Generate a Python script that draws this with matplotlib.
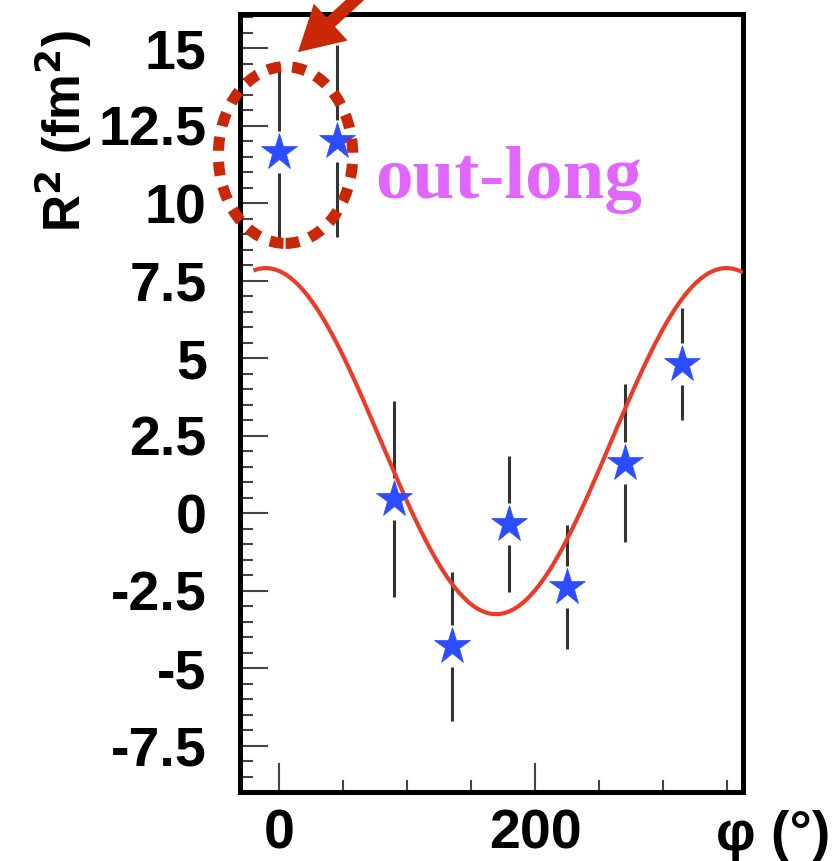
import numpy as np
import matplotlib
matplotlib.use("Agg")
import matplotlib.pyplot as plt
from matplotlib.patches import Ellipse
from matplotlib.ticker import MultipleLocator, FixedLocator

# ---- data ----
phi = [0, 45, 90, 135, 180, 225, 270, 315]
r2 = [11.65, 12.0, 0.45, -4.3, -0.35, -2.4, 1.6, 4.8]
r2_err = [2.85, 3.1, 3.15, 2.4, 2.2, 2.0, 2.55, 1.8]

# fit: a + b*cos(phi) + c*sin(phi)
fit_params = [2.32, 5.49, -1.01]
fit_range = [-20, 362.5]

ytick_vals = [-7.5, -5, -2.5, 0, 2.5, 5, 7.5, 10, 12.5, 15]
ytick_labels = ["-7.5", "-5", "-2.5", "0", "2.5", "5", "7.5", "10", "12.5", "15"]
xtick_vals = [0, 200]
xtick_labels = ["0", "200"]

panel_label = "out-long"
ylabel = r"R$^\mathbf{2}$ (fm$^\mathbf{2}$)"
xlabel = "φ (°)"

# ---- figure ----
W, H = 834, 861
fig = plt.figure(figsize=(W / 100, H / 100), dpi=100)
ax = fig.add_axes([240 / W, 1 - 792 / H, (743 - 240) / W, (792 - 14) / H])
xlim = (-30.5, 362.5)
ylim = (-9.0, 16.1)
ax.set_xlim(*xlim)
ax.set_ylim(*ylim)

for s in ax.spines.values():
    s.set_linewidth(3.6)
    s.set_color("black")

sans = "Liberation Sans"
ax.yaxis.set_major_locator(FixedLocator(ytick_vals))
ax.set_yticklabels(ytick_labels, fontfamily=sans, fontweight="bold", fontsize=40)
ax.yaxis.set_minor_locator(MultipleLocator(0.5))
ax.xaxis.set_major_locator(FixedLocator(xtick_vals))
ax.set_xticklabels(xtick_labels, fontfamily=sans, fontweight="bold", fontsize=40)
ax.xaxis.set_minor_locator(MultipleLocator(50))

ax.tick_params(axis="both", which="both", direction="in", color="#444444", width=1.5)
ax.tick_params(axis="y", which="major", length=20, pad=24)
ax.tick_params(axis="y", which="minor", length=9)
ax.tick_params(axis="x", which="major", length=21, pad=12)
ax.tick_params(axis="x", which="minor", length=9)

# fit curve
xf = np.linspace(fit_range[0], fit_range[1], 400)
rad = np.deg2rad(xf)
yf = fit_params[0] + fit_params[1] * np.cos(rad) + fit_params[2] * np.sin(rad)
ax.plot(xf, yf, color="#EB3C28", lw=3.0, zorder=3, solid_capstyle="butt")

# error bars with a gap around the marker
ax_h_px = (792 - 14)
gap = 21 * (ylim[1] - ylim[0]) / ax_h_px
for x, y, e in zip(phi, r2, r2_err):
    ax.plot([x, x], [y + gap, y + e], color="#333333", lw=2.2, zorder=2, solid_capstyle="butt")
    ax.plot([x, x], [y - e, y - gap], color="#333333", lw=2.2, zorder=2, solid_capstyle="butt")

ax.plot(phi, r2, ls="none", marker="*", ms=28, color="#2B4CFF",
        markeredgecolor="#2B4CFF", markeredgewidth=0.5, zorder=4)

# panel label
ax.text(75, 10.15, panel_label, color="#E066FF", fontfamily="Liberation Serif",
        fontweight="bold", fontsize=54, ha="left", va="baseline", zorder=5)

# axis labels
ax.set_ylabel(ylabel, fontfamily=sans, fontweight="bold", fontsize=37)
ax.yaxis.set_label_coords(-(240 - 63) / (743 - 240), (792 - 131) / (792 - 14))
ax.yaxis.label.set_va("center")
ax.yaxis.label.set_ha("center")
fig.text(830 / W, 1 - 850 / H, xlabel, fontfamily=sans, fontweight="bold",
         fontsize=40, ha="right", va="baseline")

# red dotted ellipse annotation
lw_e = 8.0
ell = Ellipse((5.1, 11.55), width=105, height=5.7, fill=False,
              edgecolor="#C82808", lw=lw_e, linestyle=(0, (10 / lw_e, 8 / lw_e)),
              clip_on=False, zorder=6)
ax.add_patch(ell)

# red arrow
ax.annotate("", xy=(14.8, 14.87), xytext=(95, 17.9),
            arrowprops=dict(arrowstyle="simple,head_length=1.6,head_width=1.8,tail_width=0.45",
                            mutation_scale=20, color="#C82808", lw=0,
                            shrinkA=0, shrinkB=0),
            annotation_clip=False, zorder=7)

fig.savefig("out.png", dpi=100)
